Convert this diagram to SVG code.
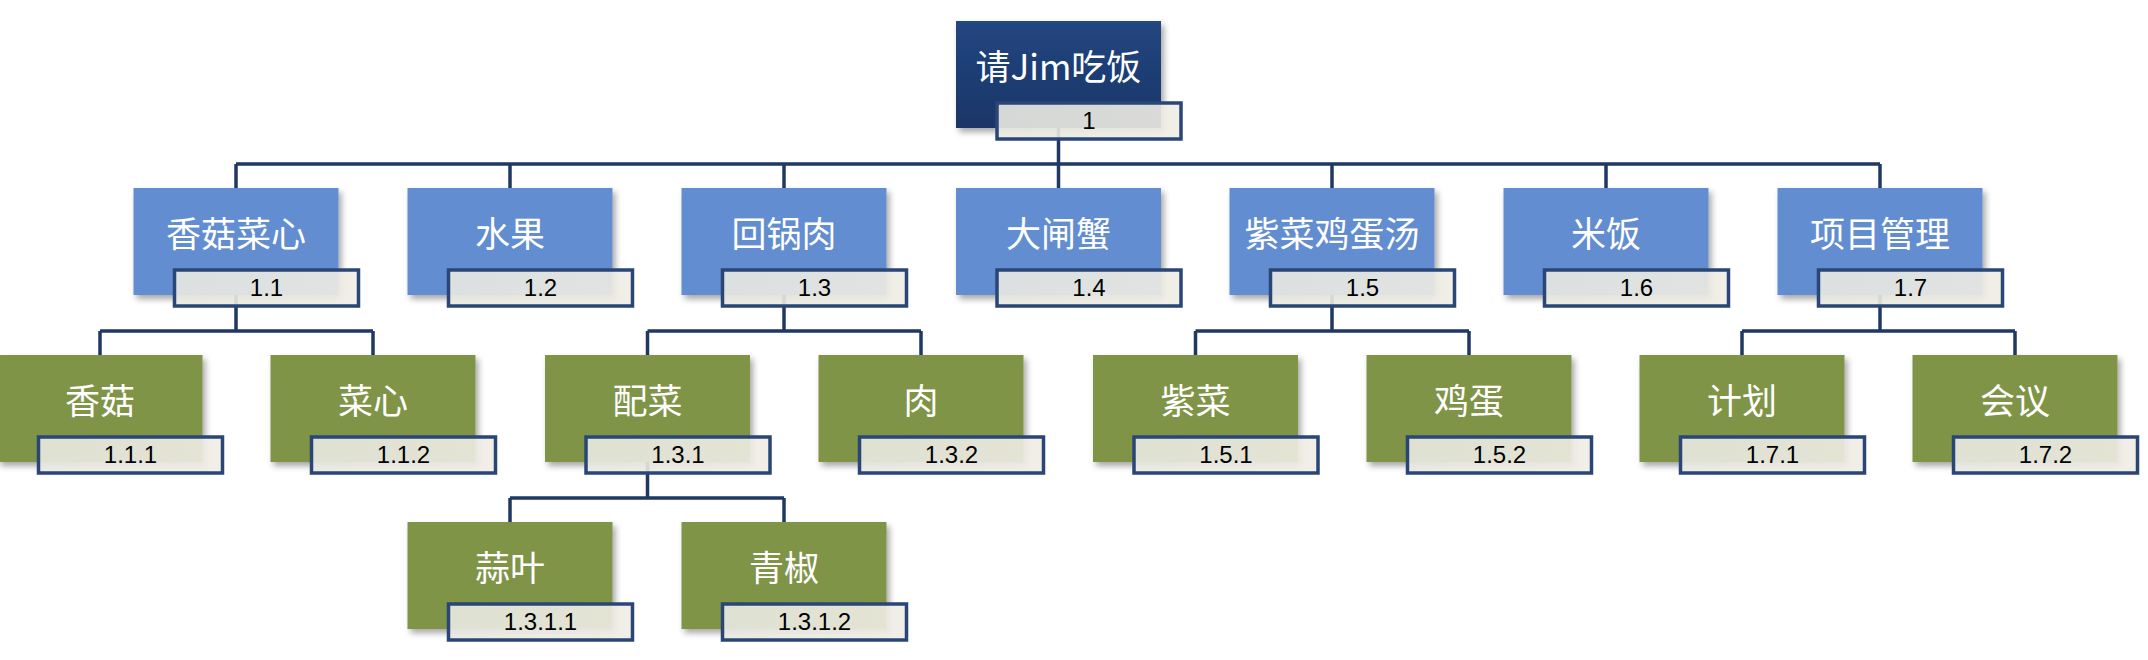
<svg xmlns="http://www.w3.org/2000/svg" width="2148" height="660" viewBox="0 0 2148 660">
<defs>
<linearGradient id="gRoot" x1="0" y1="0" x2="0" y2="1"><stop offset="0" stop-color="#224681"/><stop offset="1" stop-color="#1a3566"/></linearGradient>
<linearGradient id="gLbl" x1="0" y1="0" x2="1" y2="0"><stop offset="0" stop-color="#e9e9e2"/><stop offset="1" stop-color="#efede4"/></linearGradient>
<filter id="sh" x="-10%" y="-10%" width="125%" height="130%"><feDropShadow dx="3" dy="4" stdDeviation="3" flood-color="#000" flood-opacity="0.35"/></filter>
<style>
.root{fill:url(#gRoot);filter:url(#sh)}
.l1{fill:#628dd0;filter:url(#sh)}
.l2{fill:#7f9447;filter:url(#sh)}
.lbl{fill:url(#gLbl);fill-opacity:0.9;stroke:#2a4677;stroke-width:3.5}
.t{font-family:"Noto Sans CJK SC","Noto Sans",sans-serif;font-size:35px;fill:#ffffff;text-anchor:middle}
.n{font-family:"Liberation Sans",Arial,sans-serif;font-size:24px;fill:#000;text-anchor:middle}
.c{fill:none;stroke:#203864;stroke-width:3.5}
</style>
</defs>
<rect width="2148" height="660" fill="#fff"/>
<g id="connectors">
<path class="c" d="M1058.5 128V164M236 164H1880M236 164V188M510 164V188M784 164V188M1058.5 164V188M1332 164V188M1606 164V188M1880 164V188"/>
<path class="c" d="M236 295V331M100 331H373M100 331V355M373 331V355"/>
<path class="c" d="M784 295V331M647.5 331H921M647.5 331V355M921 331V355"/>
<path class="c" d="M1332 295V331M1195.5 331H1469M1195.5 331V355M1469 331V355"/>
<path class="c" d="M1880 295V331M1742 331H2015M1742 331V355M2015 331V355"/>
<path class="c" d="M647.5 462V498M510 498H784M510 498V522M784 498V522"/>
</g>
<g id="n1"><rect class="root" x="956" y="21" width="205" height="107"/><text class="t" x="1058.5" y="80">请Jim吃饭</text><rect class="lbl" x="997" y="103" width="184" height="36"/><text class="n" x="1089" y="129">1</text></g>
<g id="n1_1"><rect class="l1" x="133.5" y="188" width="205" height="107"/><text class="t" x="236" y="247">香菇菜心</text><rect class="lbl" x="174.5" y="270" width="184" height="36"/><text class="n" x="266.5" y="296">1.1</text></g>
<g id="n1_2"><rect class="l1" x="407.5" y="188" width="205" height="107"/><text class="t" x="510" y="247">水果</text><rect class="lbl" x="448.5" y="270" width="184" height="36"/><text class="n" x="540.5" y="296">1.2</text></g>
<g id="n1_3"><rect class="l1" x="681.5" y="188" width="205" height="107"/><text class="t" x="784" y="247">回锅肉</text><rect class="lbl" x="722.5" y="270" width="184" height="36"/><text class="n" x="814.5" y="296">1.3</text></g>
<g id="n1_4"><rect class="l1" x="956" y="188" width="205" height="107"/><text class="t" x="1058.5" y="247">大闸蟹</text><rect class="lbl" x="997" y="270" width="184" height="36"/><text class="n" x="1089" y="296">1.4</text></g>
<g id="n1_5"><rect class="l1" x="1229.5" y="188" width="205" height="107"/><text class="t" x="1332" y="247">紫菜鸡蛋汤</text><rect class="lbl" x="1270.5" y="270" width="184" height="36"/><text class="n" x="1362.5" y="296">1.5</text></g>
<g id="n1_6"><rect class="l1" x="1503.5" y="188" width="205" height="107"/><text class="t" x="1606" y="247">米饭</text><rect class="lbl" x="1544.5" y="270" width="184" height="36"/><text class="n" x="1636.5" y="296">1.6</text></g>
<g id="n1_7"><rect class="l1" x="1777.5" y="188" width="205" height="107"/><text class="t" x="1880" y="247">项目管理</text><rect class="lbl" x="1818.5" y="270" width="184" height="36"/><text class="n" x="1910.5" y="296">1.7</text></g>
<g id="n1_1_1"><rect class="l2" x="-2.5" y="355" width="205" height="107"/><text class="t" x="100" y="414">香菇</text><rect class="lbl" x="38.5" y="437" width="184" height="36"/><text class="n" x="130.5" y="463">1.1.1</text></g>
<g id="n1_1_2"><rect class="l2" x="270.5" y="355" width="205" height="107"/><text class="t" x="373" y="414">菜心</text><rect class="lbl" x="311.5" y="437" width="184" height="36"/><text class="n" x="403.5" y="463">1.1.2</text></g>
<g id="n1_3_1"><rect class="l2" x="545" y="355" width="205" height="107"/><text class="t" x="647.5" y="414">配菜</text><rect class="lbl" x="586" y="437" width="184" height="36"/><text class="n" x="678" y="463">1.3.1</text></g>
<g id="n1_3_2"><rect class="l2" x="818.5" y="355" width="205" height="107"/><text class="t" x="921" y="414">肉</text><rect class="lbl" x="859.5" y="437" width="184" height="36"/><text class="n" x="951.5" y="463">1.3.2</text></g>
<g id="n1_5_1"><rect class="l2" x="1093" y="355" width="205" height="107"/><text class="t" x="1195.5" y="414">紫菜</text><rect class="lbl" x="1134" y="437" width="184" height="36"/><text class="n" x="1226" y="463">1.5.1</text></g>
<g id="n1_5_2"><rect class="l2" x="1366.5" y="355" width="205" height="107"/><text class="t" x="1469" y="414">鸡蛋</text><rect class="lbl" x="1407.5" y="437" width="184" height="36"/><text class="n" x="1499.5" y="463">1.5.2</text></g>
<g id="n1_7_1"><rect class="l2" x="1639.5" y="355" width="205" height="107"/><text class="t" x="1742" y="414">计划</text><rect class="lbl" x="1680.5" y="437" width="184" height="36"/><text class="n" x="1772.5" y="463">1.7.1</text></g>
<g id="n1_7_2"><rect class="l2" x="1912.5" y="355" width="205" height="107"/><text class="t" x="2015" y="414">会议</text><rect class="lbl" x="1953.5" y="437" width="184" height="36"/><text class="n" x="2045.5" y="463">1.7.2</text></g>
<g id="n1_3_1_1"><rect class="l2" x="407.5" y="522" width="205" height="107"/><text class="t" x="510" y="581">蒜叶</text><rect class="lbl" x="448.5" y="604" width="184" height="36"/><text class="n" x="540.5" y="630">1.3.1.1</text></g>
<g id="n1_3_1_2"><rect class="l2" x="681.5" y="522" width="205" height="107"/><text class="t" x="784" y="581">青椒</text><rect class="lbl" x="722.5" y="604" width="184" height="36"/><text class="n" x="814.5" y="630">1.3.1.2</text></g>
</svg>
